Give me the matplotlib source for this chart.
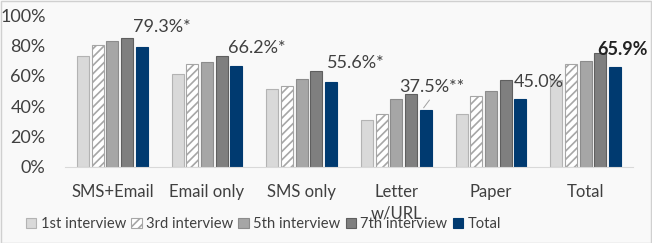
import numpy as np
import matplotlib.pyplot as plt

plt.rcParams['font.family'] = ['Lato', 'DejaVu Sans']
plt.rcParams['hatch.linewidth'] = 1.2

categories = ['SMS+Email', 'Email only', 'SMS only', 'Letter\nw/URL', 'Paper', 'Total']
series_names = ['1st interview', '3rd interview', '5th interview', '7th interview', 'Total']
first = [0.73, 0.61, 0.51, 0.31, 0.35, 0.57]
third = [0.80, 0.68, 0.53, 0.35, 0.47, 0.68]
fifth = [0.83, 0.69, 0.58, 0.445, 0.50, 0.70]
seventh = [0.85, 0.73, 0.63, 0.48, 0.57, 0.75]
total = [0.793, 0.662, 0.556, 0.375, 0.450, 0.659]
total_labels = ['79.3%*', '66.2%*', '55.6%*', '37.5%**', '45.0%', '65.9%']

TEXT = '#404040'
fills = ['#d9d9d9', 'white', '#a6a6a6', '#7f7f7f', '#003a70']
edges = ['#b3b3b3', '#a6a6a6', '#8c8c8c', '#5f5f5f', '#003a70']
hatches = [None, '////', None, None, None]

fig = plt.figure(figsize=(6.52, 2.43), dpi=100, facecolor='#f9f9f9')
ax = fig.add_axes([0.0997, 0.313, 0.871, 0.625])
ax.set_facecolor('#f9f9f9')

x = np.arange(len(categories))
pitch = 0.155
width = 0.127
for i, vals in enumerate([first, third, fifth, seventh, total]):
    ax.bar(x + (i - 2) * pitch, vals, width, color=fills[i], edgecolor=edges[i],
           hatch=hatches[i], linewidth=0.8, label=series_names[i])

# label placement (x offset from group center, y position)
lab_dx = [0.218, 0.221, 0.267, 0.027, 0.241, 0.128]
lab_y = [0.92, 0.78, 0.685, 0.525, 0.56, 0.77]
for j, t in enumerate(total_labels):
    ax.text(x[j] + lab_dx[j], lab_y[j], t, ha='left', va='center', fontsize=13,
            color='#222222' if j == 5 else TEXT,
            fontweight='bold' if j == 5 else 'normal')
# leader line for the letter label
ax.plot([x[3] + 2 * pitch - 0.02, x[3] + 2 * pitch + 0.04], [0.39, 0.44],
        color='#a0a0a0', lw=0.7)

ax.set_xlim(-0.5, len(categories) - 0.5)
ax.set_ylim(0, 1)
ax.set_yticks(np.arange(0, 1.01, 0.2))
ax.set_yticklabels([f'{int(v * 100)}%' for v in np.arange(0, 1.01, 0.2)])
ax.set_xticks(x)
ax.set_xticklabels(categories, fontsize=12, color=TEXT, linespacing=1.45)
ax.tick_params(axis='y', length=0, pad=14, labelsize=13, labelcolor=TEXT)
ax.tick_params(axis='x', length=0, pad=12)
for s in ['top', 'right', 'left']:
    ax.spines[s].set_visible(False)
ax.spines['bottom'].set_color('#d9d9d9')

fig.legend(loc='center', bbox_to_anchor=(0.404, 0.078), ncol=5, frameon=False,
           fontsize=10.6, handlelength=0.7, handleheight=0.7, handletextpad=0.3,
           columnspacing=0.35, labelcolor=TEXT, borderaxespad=0)

fig.add_artist(plt.Rectangle((0.001, 0.002), 0.997, 0.995, transform=fig.transFigure,
                             fill=False, edgecolor='#d0d0d0', lw=1))

fig.savefig('out.png', dpi=100, facecolor=fig.get_facecolor())
